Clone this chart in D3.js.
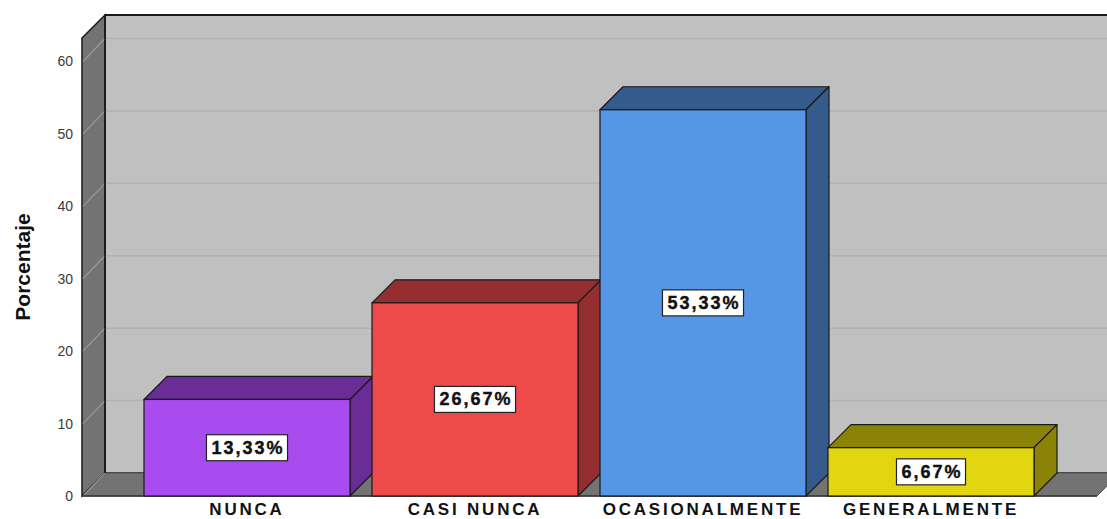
<!DOCTYPE html>
<html>
<head>
<meta charset="utf-8">
<script src="https://cdn.jsdelivr.net/npm/d3@7"></script>
<style>
  html, body { margin: 0; padding: 0; background: #ffffff; }
  svg { display: block; }
</style>
</head>
<body>
<svg id="chart" width="1107" height="519"></svg>
<script>
const categories = ["NUNCA", "CASI NUNCA", "OCASIONALMENTE", "GENERALMENTE"];
const values = [13.33, 26.67, 53.33, 6.67];
const valueLabels = ["13,33%", "26,67%", "53,33%", "6,67%"];
const yTicks = [0, 10, 20, 30, 40, 50, 60];
const yTitle = "Porcentaje";
const frontColors = ["#a84cf0", "#ee4a4c", "#5596e6", "#e2d611"];
const darkColors = ["#6a2c97", "#952e30", "#345b8b", "#8b8208"];

const svg = d3.select("#chart");
const D = 23;               // 3D depth offset
const x0 = 82, floorY = 496;

const y = d3.scaleLinear().domain([0, 63.24]).range([floorY, 38]);
const x = d3.scaleBand().domain(categories).range([133, 1045])
  .paddingInner(22 / 228).paddingOuter(11 / 228);

// back wall
svg.append("rect").attr("x", x0 + D).attr("y", y.range()[1] - D)
  .attr("width", 1107 - x0 - D + 5).attr("height", floorY - y.range()[1])
  .attr("fill", "#c0c0c0").attr("stroke", "#1a1a1a").attr("stroke-width", 1.5);

// floor
const xEnd = 1097;
svg.append("polygon")
  .attr("points", [[x0, floorY], [x0 + D, floorY - D], [xEnd + D, floorY - D], [xEnd, floorY]].join(" "))
  .attr("fill", "#737373").attr("stroke", "#555").attr("stroke-width", 1);

// left wall
svg.append("polygon")
  .attr("points", [[x0, y.range()[1]], [x0 + D, y.range()[1] - D], [x0 + D, floorY - D], [x0, floorY]].join(" "))
  .attr("fill", "#737373").attr("stroke", "#1a1a1a").attr("stroke-width", 1.5);

// gridlines
const grid = svg.append("g");
yTicks.forEach(t => {
  if (t > 0) {
    grid.append("line").attr("x1", x0 + D + 1).attr("x2", 1107)
      .attr("y1", y(t) - D).attr("y2", y(t) - D)
      .attr("stroke", "#b2b2b2").attr("stroke-width", 1.5);
  }
  grid.append("line").attr("x1", x0 + 1).attr("x2", x0 + D)
    .attr("y1", y(t)).attr("y2", y(t) - D)
    .attr("stroke", "#9a9a9a").attr("stroke-width", 1.2);
});
// re-stroke wall edges
svg.append("line").attr("x1", x0 + D).attr("x2", x0 + D).attr("y1", y.range()[1] - D).attr("y2", floorY - D)
  .attr("stroke", "#1a1a1a").attr("stroke-width", 1.5);
svg.append("line").attr("x1", x0 + D).attr("x2", 1107).attr("y1", y.range()[1] - D).attr("y2", y.range()[1] - D)
  .attr("stroke", "#1a1a1a").attr("stroke-width", 2);
svg.append("line").attr("x1", x0).attr("x2", xEnd).attr("y1", floorY).attr("y2", floorY)
  .attr("stroke", "#333").attr("stroke-width", 1.5);

// y axis (labels only)
const yAxis = svg.append("g").attr("transform", `translate(${x0 - 9},0)`)
  .call(d3.axisLeft(y).tickValues(yTicks).tickSize(0).tickPadding(0));
yAxis.select(".domain").remove();
yAxis.selectAll("text").attr("font-family", "'Liberation Sans', Arial, sans-serif")
  .attr("font-size", 14).attr("fill", "#3a3a3a");

// y title
svg.append("text").attr("transform", "translate(30,267) rotate(-90)")
  .attr("text-anchor", "middle").attr("font-family", "'Liberation Sans', Arial, sans-serif")
  .attr("font-weight", "bold").attr("font-size", 21).attr("fill", "#111").text(yTitle);

// bars
const bars = svg.append("g");
categories.forEach((c, i) => {
  const bx = x(c), bw = x.bandwidth(), ty = y(values[i]), by = y(0);
  const g = bars.append("g");
  g.append("polygon")
    .attr("points", [[bx, ty], [bx + D, ty - D], [bx + bw + D, ty - D], [bx + bw, ty]].join(" "))
    .attr("fill", darkColors[i]).attr("stroke", "#1a1a1a").attr("stroke-width", 1.2).attr("stroke-linejoin", "round");
  g.append("polygon")
    .attr("points", [[bx + bw, ty], [bx + bw + D, ty - D], [bx + bw + D, by - D], [bx + bw, by]].join(" "))
    .attr("fill", darkColors[i]).attr("stroke", "#1a1a1a").attr("stroke-width", 1.2).attr("stroke-linejoin", "round");
  g.append("rect").attr("x", bx).attr("y", ty).attr("width", bw).attr("height", by - ty)
    .attr("fill", frontColors[i]).attr("stroke", "#1a1a1a").attr("stroke-width", 1.2);

  // value label
  const cx = bx + bw / 2, cy = (ty + by) / 2;
  const lab = g.append("g");
  const box = lab.append("rect").attr("fill", "#fff").attr("stroke", "#222").attr("stroke-width", 1.2);
  const txt = lab.append("text").attr("x", cx).attr("y", cy)
    .attr("text-anchor", "middle").attr("dominant-baseline", "central")
    .attr("font-family", "'Liberation Sans', Arial, sans-serif").attr("font-weight", "bold")
    .attr("font-size", 18).attr("letter-spacing", "2px").attr("fill", "#111")
    .attr("stroke", "#111").attr("stroke-width", 0.4).text(valueLabels[i]);
  const bb = txt.node().getBBox();
  box.attr("x", cx - bb.width / 2 - 4).attr("y", cy - 13).attr("width", bb.width + 8).attr("height", 26);
  txt.attr("x", cx + 1);
});

// category labels
const xAxis = svg.append("g").attr("transform", `translate(0,${floorY})`)
  .call(d3.axisBottom(x).tickSize(0).tickPadding(0));
xAxis.select(".domain").remove();
xAxis.selectAll("text").attr("y", 19).attr("dy", null)
  .attr("font-family", "'Liberation Sans', Arial, sans-serif").attr("font-weight", "bold")
  .attr("font-size", 17).attr("letter-spacing", "2.8px").attr("fill", "#111");
</script>
</body>
</html>
